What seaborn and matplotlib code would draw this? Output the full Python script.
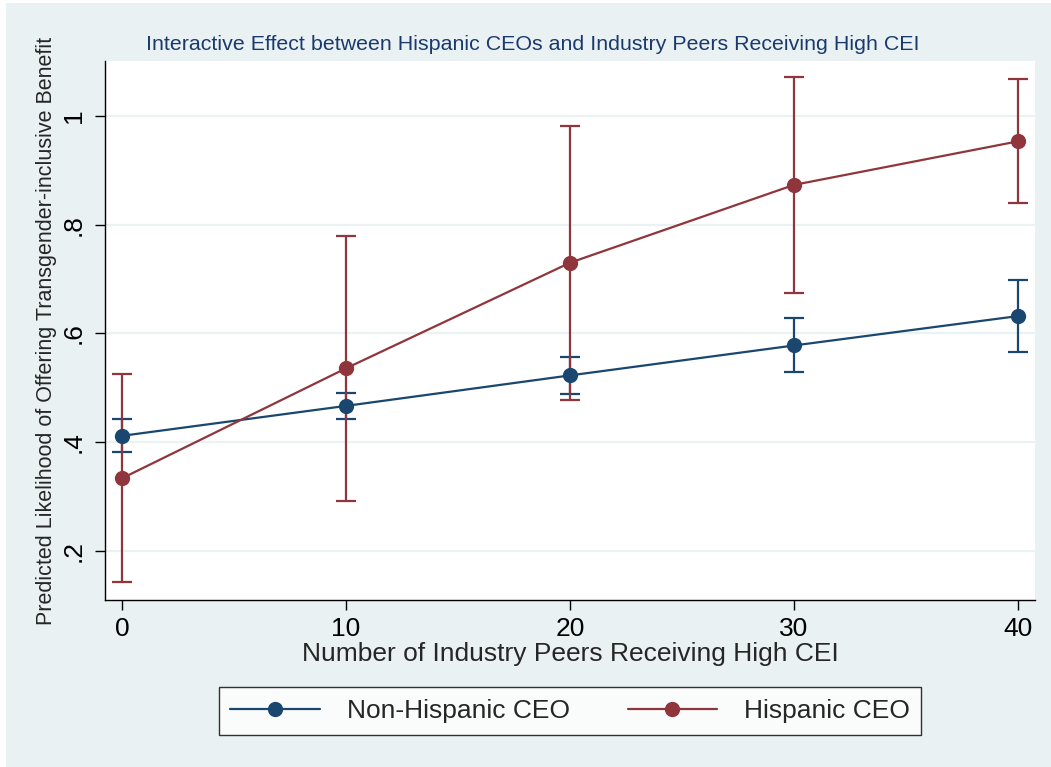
import matplotlib
matplotlib.use("Agg")
import matplotlib.pyplot as plt
from matplotlib.patches import Rectangle
from matplotlib.lines import Line2D
import seaborn as sns
import pandas as pd
import numpy as np

# Predictive margins with 95% confidence intervals
peers = [0, 10, 20, 30, 40]
non_hisp = [0.412, 0.467, 0.523, 0.578, 0.632]
non_hisp_lo = [0.382, 0.443, 0.489, 0.529, 0.566]
non_hisp_hi = [0.442, 0.491, 0.556, 0.628, 0.698]
hisp = [0.334, 0.536, 0.730, 0.873, 0.953]
hisp_lo = [0.143, 0.293, 0.477, 0.675, 0.839]
hisp_hi = [0.526, 0.779, 0.982, 1.072, 1.067]
groups = ["Non-Hispanic CEO", "Hispanic CEO"]
y_ticks = [0.2, 0.4, 0.6, 0.8, 1.0]
y_tick_labels = [".2", ".4", ".6", ".8", "1"]
x_ticks = [0, 10, 20, 30, 40]

NAVY = "#1a476f"
MAROON = "#90353b"
BG = "#e9f1f3"
GRID = "#eaf2f3"

sns.set_theme(style="white")
plt.rcParams["font.family"] = ["Liberation Sans", "DejaVu Sans"]

df = pd.DataFrame({
    "peers": peers * 2,
    "pred": non_hisp + hisp,
    "lo": non_hisp_lo + hisp_lo,
    "hi": non_hisp_hi + hisp_hi,
    "group": [groups[0]] * len(peers) + [groups[1]] * len(peers),
})

fig = plt.figure(figsize=(10.51, 7.67), dpi=100)
fig.patch.set_facecolor("white")
fig.add_artist(Rectangle((6 / 1051, 0), 1 - 6 / 1051, 1 - 3 / 767,
                         transform=fig.transFigure, facecolor=BG,
                         edgecolor="none", zorder=0))

ax = fig.add_axes([105 / 1051, 1 - 600 / 767, (1035 - 105) / 1051, (600 - 61) / 767])
ax.set_facecolor("white")

palette = {groups[0]: NAVY, groups[1]: MAROON}

# Confidence intervals
for g in groups:
    sub = df[df["group"] == g]
    ax.errorbar(sub["peers"], sub["pred"],
                yerr=[sub["pred"] - sub["lo"], sub["hi"] - sub["pred"]],
                fmt="none", ecolor=palette[g], elinewidth=1.6,
                capsize=7, capthick=1.6, zorder=2)

sns.lineplot(data=df, x="peers", y="pred", hue="group", palette=palette,
             marker="o", markersize=11, markeredgewidth=0, linewidth=1.6,
             errorbar=None, ax=ax, legend=False, zorder=3)

ax.set_xlim(-0.76, 40.76)
ax.set_ylim(0.1104, 1.1006)
ax.set_yticks(y_ticks)
ax.set_yticklabels(y_tick_labels, rotation=90, va="center", fontsize=19)
ax.set_xticks(x_ticks)
ax.set_xticklabels([str(t) for t in x_ticks], fontsize=19)
ax.yaxis.grid(True, color=GRID, linewidth=1.6)
ax.xaxis.grid(False)
ax.set_axisbelow(True)

for s in ["top", "right"]:
    ax.spines[s].set_visible(False)
for s in ["left", "bottom"]:
    ax.spines[s].set_color("black")
    ax.spines[s].set_linewidth(1.0)
ax.tick_params(axis="both", which="major", direction="out", length=7,
               width=1.0, color="black", labelcolor="black", pad=5, left=True, bottom=True)
ax.tick_params(axis="y", pad=7)

ax.set_xlabel("Number of Industry Peers Receiving High CEI", fontsize=19, labelpad=1)
ax.set_ylabel("Predicted Likelihood of Offering Transgender-inclusive Benefit",
              fontsize=15.5, labelpad=3)

fig.text(533 / 1051, 1 - 45 / 767,
         "Interactive Effect between Hispanic CEOs and Industry Peers Receiving High CEI",
         ha="center", va="center", fontsize=15.4, color="#1a3a6e")

handles = [Line2D([0], [0], color=palette[g], marker="o", markersize=11,
                  markeredgewidth=0, linewidth=1.6) for g in groups]
leg = fig.legend(handles, groups, loc="center", bbox_to_anchor=(570 / 1051, 1 - 711 / 767),
                 ncol=2, frameon=True, fancybox=False, fontsize=19,
                 handlelength=3.4, columnspacing=2.2, borderpad=0.45, handletextpad=1.0)
leg.get_frame().set_edgecolor("black")
leg.get_frame().set_linewidth(1.0)
leg.get_frame().set_facecolor("white")

fig.savefig("out.png", dpi=100)
